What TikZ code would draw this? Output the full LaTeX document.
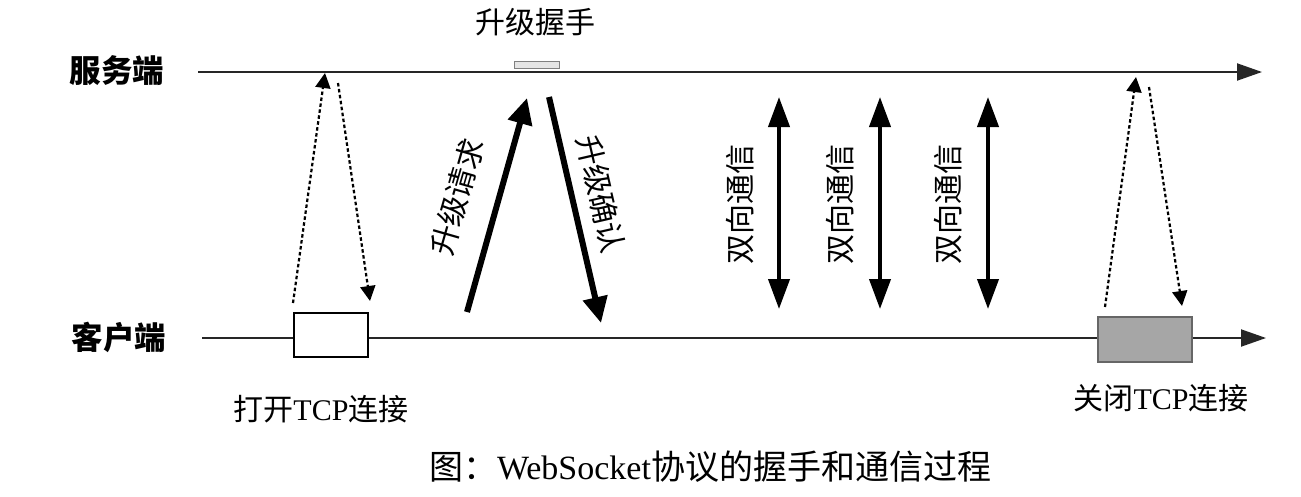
\documentclass[tikz,border=0pt]{standalone}
\usepackage{fontspec}
\setmainfont{Liberation Serif}
\newfontfamily\cjk{Noto Sans CJK SC}
\usetikzlibrary{arrows.meta}
\begin{document}
\begin{tikzpicture}[x=1pt,y=-1pt,
  axis/.style={line width=2pt, draw=black!85, -{Triangle[length=25pt,width=17pt]}},
  dotarr/.style={line width=2.2pt, dash pattern=on 3.5pt off 2.5pt, -{Triangle[length=15pt,width=15pt]}},
  thickarr/.style={line width=6pt, -{Triangle[length=26pt,width=24pt]}},
  duplex/.style={line width=4pt, {Triangle[length=30pt,width=21pt]}-{Triangle[length=30pt,width=21pt]}},
  lbl/.style={font=\fontsize{30}{36}\selectfont, inner sep=0pt},
  lblb/.style={font=\fontsize{31.5}{36}\selectfont\cjk\bfseries, inner sep=0pt},
  captxt/.style={font=\fontsize{34}{40}\selectfont, inner sep=0pt},
]
\useasboundingbox (0,0) rectangle (1301,496);
\fill[white] (0,0) rectangle (1301,496);

% side labels
\node[lblb] (srv) at (117,71) {服务端};
\node[lblb] (cli) at (119,337) {客户端};

% time lines
\coordinate (s0) at (198,72);
\coordinate (s1) at (1262,72);
\coordinate (c0) at (202,338);
\coordinate (c1) at (1266,338);
\draw[axis] (s0) -- (s1);
\draw[axis] (c0) -- (c1);

% boxes
\node[draw, line width=2pt, fill=white, minimum width=74pt, minimum height=44pt, inner sep=0pt] (open) at (330.5,334.5) {};
\node[draw=black!60, line width=1.5pt, fill=black!35, minimum width=94pt, minimum height=45pt, inner sep=0pt] (close) at (1145,339.5) {};
\node[draw=black!50, line width=1pt, fill=black!10, minimum width=45pt, minimum height=7pt, inner sep=0pt] (hs) at (536.5,64.5) {};

% labels
\node[lbl] (hslbl) at (535,22) {\cjk 升级握手};
\node[lbl] (openlbl) at (321,409) {{\cjk 打开}TCP{\cjk 连接}};
\node[lbl] (closelbl) at (1161,398) {{\cjk 关闭}TCP{\cjk 连接}};
\node[captxt] (caption) at (710,467) {{\cjk 图：}WebSocket{\cjk 协议的握手和通信过程}};

% dotted open/close handshakes
\coordinate (oa) at (293,303);
\coordinate (ob) at (325,73);
\coordinate (oc) at (338,83);
\coordinate (od) at (370,301);
\draw[dotarr] (oa) -- (ob);
\draw[dotarr] (oc) -- (od);
\coordinate (ca) at (1105,307);
\coordinate (cb) at (1136,77);
\coordinate (cc) at (1149,87);
\coordinate (cd) at (1182,306);
\draw[dotarr] (ca) -- (cb);
\draw[dotarr] (cc) -- (cd);

% upgrade request / response
\coordinate (ua) at (467,312);
\coordinate (ub) at (527,98);
\coordinate (uc) at (549,97);
\coordinate (ud) at (601,323);
\draw[thickarr] (ua) -- (ub);
\draw[thickarr] (uc) -- (ud);
\node[lbl, rotate=74] (reqlbl) at (457,197) {\cjk 升级请求};
\node[lbl, rotate=-77] (acklbl) at (601,194) {\cjk 升级确认};

% duplex communication
\foreach \i/\x/\lx in {1/779/740, 2/880/840, 3/988/948} {
  \coordinate (d\i a) at (\x,97);
  \coordinate (d\i b) at (\x,309);
  \draw[duplex] (d\i a) -- (d\i b);
  \node[lbl, rotate=90] (dl\i) at (\lx,204) {\cjk 双向通信};
}
\end{tikzpicture}
\end{document}
